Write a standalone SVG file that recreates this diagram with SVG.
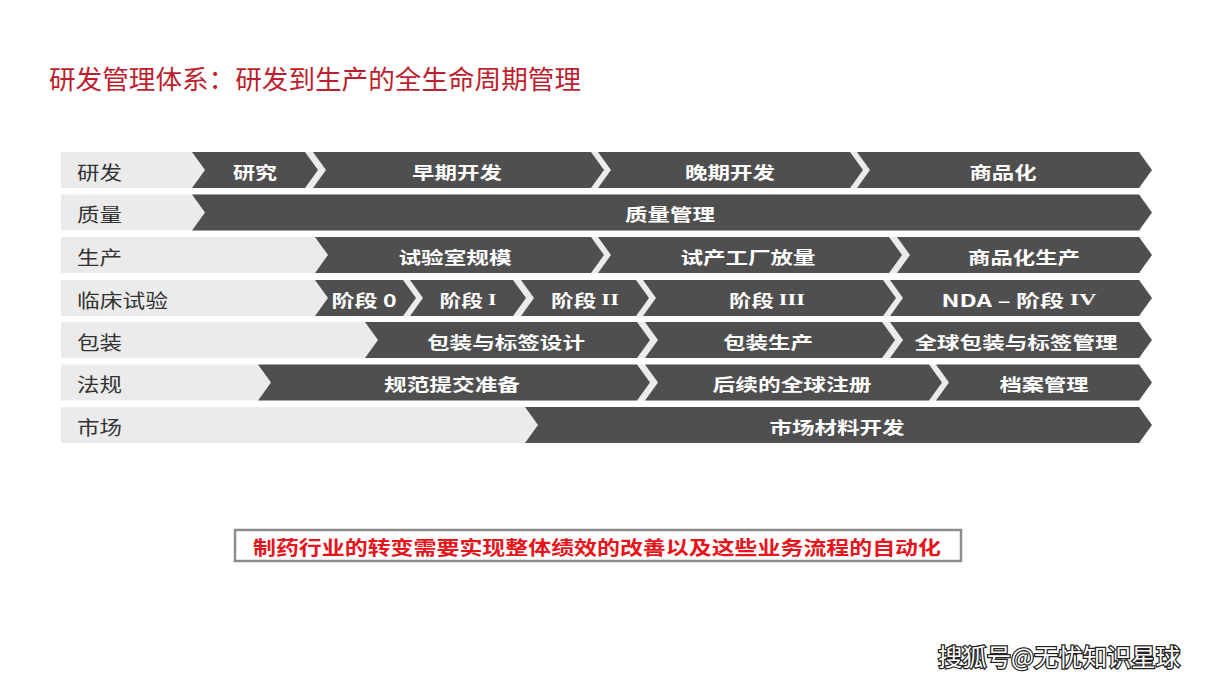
<svg xmlns="http://www.w3.org/2000/svg" width="1209" height="680" viewBox="0 0 1209 680">
<style>
.bg{fill:#ebebeb}
.chev{fill:#4f4f4f}
.lbl{font-family:"Noto Sans CJK SC","Noto Sans",sans-serif;font-size:19px;fill:#333;dominant-baseline:central}
.ct{font-family:"Noto Sans CJK SC","Noto Sans",sans-serif;font-size:17px;font-weight:bold;fill:#fff;text-anchor:middle;dominant-baseline:central}
.rn{font-family:"Liberation Serif",serif}
.title{font-family:"Noto Sans CJK SC",sans-serif;font-size:26px;fill:#be1e2d;dominant-baseline:central}
.note{font-family:"Noto Sans CJK SC",sans-serif;font-size:19px;font-weight:bold;fill:#e8141b;text-anchor:middle;dominant-baseline:central}
.wm{font-family:"Noto Sans CJK SC",sans-serif;font-size:24px;fill:#fff;stroke:#222;stroke-width:2.5;paint-order:stroke;text-anchor:middle;dominant-baseline:central}
</style>
<rect width="1209" height="680" fill="#fff"/>
<text class="title" x="49" y="77" textLength="532" lengthAdjust="spacingAndGlyphs">研发管理体系：研发到生产的全生命周期管理</text>

<g id="row-rd">
<rect class="bg" x="61" y="152" width="1080" height="36"/>
<text class="lbl" x="77" y="171" textLength="45" lengthAdjust="spacingAndGlyphs">研发</text>
<g id="rd-research"><path class="chev" d="M192,152 L305,152 L318,170 L305,188 L192,188 L205,170 Z"/><text class="ct" x="255" y="171" textLength="44" lengthAdjust="spacingAndGlyphs">研究</text></g>
<g id="rd-early"><path class="chev" d="M313,152 L591,152 L604,170 L591,188 L313,188 L326,170 Z"/><text class="ct" x="457" y="171" textLength="90" lengthAdjust="spacingAndGlyphs">早期开发</text></g>
<g id="rd-late"><path class="chev" d="M598,152 L850,152 L863,170 L850,188 L598,188 L611,170 Z"/><text class="ct" x="730" y="171" textLength="90" lengthAdjust="spacingAndGlyphs">晚期开发</text></g>
<g id="rd-comm"><path class="chev" d="M857,152 L1139,152 L1152,170 L1139,188 L857,188 L870,170 Z"/><text class="ct" x="1003" y="171" textLength="67" lengthAdjust="spacingAndGlyphs">商品化</text></g>
</g>

<g id="row-quality">
<rect class="bg" x="61" y="194.5" width="1080" height="36"/>
<text class="lbl" x="77" y="213.5" textLength="45" lengthAdjust="spacingAndGlyphs">质量</text>
<g id="q-mgmt"><path class="chev" d="M192,194.5 L1139,194.5 L1152,212.5 L1139,230.5 L192,230.5 L205,212.5 Z"/><text class="ct" x="670" y="213.5" textLength="90" lengthAdjust="spacingAndGlyphs">质量管理</text></g>
</g>

<g id="row-prod">
<rect class="bg" x="61" y="237" width="1080" height="36"/>
<text class="lbl" x="77" y="256" textLength="45" lengthAdjust="spacingAndGlyphs">生产</text>
<g id="p-lab"><path class="chev" d="M315,237 L591,237 L604,255 L591,273 L315,273 L328,255 Z"/><text class="ct" x="455" y="256" textLength="113" lengthAdjust="spacingAndGlyphs">试验室规模</text></g>
<g id="p-pilot"><path class="chev" d="M598,237 L889,237 L902,255 L889,273 L598,273 L611,255 Z"/><text class="ct" x="748" y="256" textLength="135" lengthAdjust="spacingAndGlyphs">试产工厂放量</text></g>
<g id="p-comm"><path class="chev" d="M897,237 L1139,237 L1152,255 L1139,273 L897,273 L910,255 Z"/><text class="ct" x="1024" y="256" textLength="112" lengthAdjust="spacingAndGlyphs">商品化生产</text></g>
</g>

<g id="row-clinical">
<rect class="bg" x="61" y="280" width="1080" height="36"/>
<text class="lbl" x="77" y="299" textLength="91" lengthAdjust="spacingAndGlyphs">临床试验</text>
<g id="c-ph0"><path class="chev" d="M315,280 L403,280 L416,298 L403,316 L315,316 L328,298 Z"/><text class="ct" x="364" y="299" textLength="65" lengthAdjust="spacingAndGlyphs">阶段 0</text></g>
<g id="c-ph1"><path class="chev" d="M410,280 L513,280 L526,298 L513,316 L410,316 L423,298 Z"/><text class="ct" x="468" y="299" textLength="57" lengthAdjust="spacingAndGlyphs">阶段 <tspan class="rn">I</tspan></text></g>
<g id="c-ph2"><path class="chev" d="M521,280 L636,280 L649,298 L636,316 L521,316 L534,298 Z"/><text class="ct" x="585" y="299" textLength="68" lengthAdjust="spacingAndGlyphs">阶段 <tspan class="rn">II</tspan></text></g>
<g id="c-ph3"><path class="chev" d="M643,280 L883,280 L896,298 L883,316 L643,316 L656,298 Z"/><text class="ct" x="767" y="299" textLength="76" lengthAdjust="spacingAndGlyphs">阶段 <tspan class="rn">III</tspan></text></g>
<g id="c-nda"><path class="chev" d="M890,280 L1139,280 L1152,298 L1139,316 L890,316 L903,298 Z"/><text class="ct" x="1019" y="299" textLength="155" lengthAdjust="spacingAndGlyphs">NDA – 阶段 <tspan class="rn">IV</tspan></text></g>
</g>

<g id="row-pack">
<rect class="bg" x="61" y="322" width="1080" height="36"/>
<text class="lbl" x="77" y="341" textLength="45" lengthAdjust="spacingAndGlyphs">包装</text>
<g id="k-design"><path class="chev" d="M365,322 L637,322 L650,340 L637,358 L365,358 L378,340 Z"/><text class="ct" x="506" y="341" textLength="158" lengthAdjust="spacingAndGlyphs">包装与标签设计</text></g>
<g id="k-prod"><path class="chev" d="M645,322 L882,322 L895,340 L882,358 L645,358 L658,340 Z"/><text class="ct" x="768" y="341" textLength="90" lengthAdjust="spacingAndGlyphs">包装生产</text></g>
<g id="k-global"><path class="chev" d="M890,322 L1139,322 L1152,340 L1139,358 L890,358 L903,340 Z"/><text class="ct" x="1016" y="341" textLength="203" lengthAdjust="spacingAndGlyphs">全球包装与标签管理</text></g>
</g>

<g id="row-reg">
<rect class="bg" x="61" y="364.5" width="1080" height="36"/>
<text class="lbl" x="77" y="383.5" textLength="45" lengthAdjust="spacingAndGlyphs">法规</text>
<g id="r-prep"><path class="chev" d="M258,364.5 L637,364.5 L650,382.5 L637,400.5 L258,400.5 L271,382.5 Z"/><text class="ct" x="452" y="383.5" textLength="136" lengthAdjust="spacingAndGlyphs">规范提交准备</text></g>
<g id="r-global"><path class="chev" d="M645,364.5 L929,364.5 L942,382.5 L929,400.5 L645,400.5 L658,382.5 Z"/><text class="ct" x="792" y="383.5" textLength="159" lengthAdjust="spacingAndGlyphs">后续的全球注册</text></g>
<g id="r-archive"><path class="chev" d="M936,364.5 L1139,364.5 L1152,382.5 L1139,400.5 L936,400.5 L949,382.5 Z"/><text class="ct" x="1044" y="383.5" textLength="89" lengthAdjust="spacingAndGlyphs">档案管理</text></g>
</g>

<g id="row-market">
<rect class="bg" x="61" y="407" width="1080" height="36"/>
<text class="lbl" x="77" y="426" textLength="45" lengthAdjust="spacingAndGlyphs">市场</text>
<g id="m-material"><path class="chev" d="M525,407 L1139,407 L1152,425 L1139,443 L525,443 L538,425 Z"/><text class="ct" x="837" y="426" textLength="135" lengthAdjust="spacingAndGlyphs">市场材料开发</text></g>
</g>

<g id="note">
<rect x="235" y="530" width="726" height="31" fill="#fff" stroke="#8c8c8c" stroke-width="2.5"/>
<text class="note" x="597" y="546" textLength="688" lengthAdjust="spacingAndGlyphs">制药行业的转变需要实现整体绩效的改善以及这些业务流程的自动化</text>
</g>

<g id="connectors"></g>

<text class="wm" x="1059" y="655" textLength="242" lengthAdjust="spacingAndGlyphs">搜狐号@无忧知识星球</text>
</svg>
